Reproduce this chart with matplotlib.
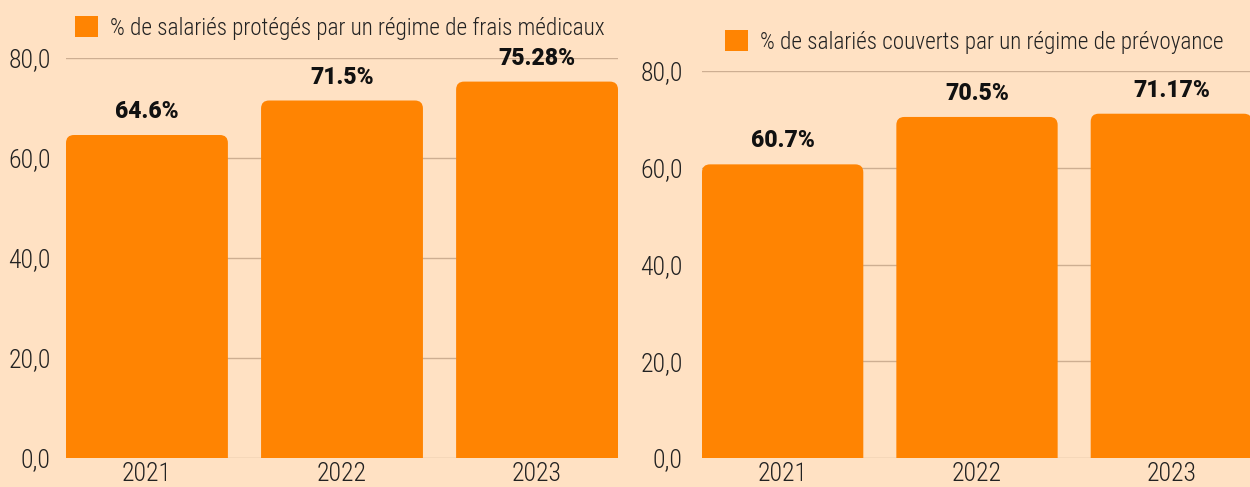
import matplotlib.pyplot as plt
from matplotlib.patches import FancyBboxPatch, Patch
from matplotlib.ticker import FuncFormatter

years = ['2021', '2022', '2023']
frais_medicaux = [64.6, 71.5, 75.28]
prevoyance = [60.7, 70.5, 71.17]
labels_frais = ['64.6%', '71.5%', '75.28%']
labels_prev = ['60.7%', '70.5%', '71.17%']
legend_frais = '% de salariés protégés par un régime de frais médicaux'
legend_prev = '% de salariés couverts par un régime de prévoyance'

bg = '#FFE1C3'
orange = '#FF8402'
grid_c = '#CDAE92'

plt.rcParams['font.family'] = ['Roboto Condensed', 'Liberation Sans Narrow',
                               'DejaVu Sans Condensed', 'Roboto', 'DejaVu Sans']
plt.rcParams['font.weight'] = 'light'

fig = plt.figure(figsize=(12.5, 4.87), dpi=100, facecolor=bg)
ax1 = fig.add_axes([66 / 1250, 1 - 458 / 487, 552 / 1250, 400 / 487])
ax2 = fig.add_axes([702 / 1250, 1 - 458 / 487, 550 / 1250, 387 / 487])


def draw(ax, values, labels, legend_text, leg_xy):
    ax.set_facecolor(bg)
    x = list(range(len(years)))
    ax.set_xlim(-0.415, 2.415)
    ax.set_ylim(0, 80)
    bars = ax.bar(x, values, width=0.83, color=orange, zorder=2)
    # data units per pixel, to get round corners of ~8 px
    ux = 2.83 / ax.bbox.width
    uy = 80 / ax.bbox.height
    for b in bars:
        b.set_visible(False)
        p = FancyBboxPatch((b.get_x(), -10), b.get_width(), b.get_height() + 10,
                           boxstyle=f'round,pad=0,rounding_size={8 * ux}',
                           mutation_aspect=uy / ux,
                           facecolor=orange, edgecolor='none', zorder=2)
        ax.add_patch(p)
    for b, lab in zip(bars, labels):
        ax.annotate(lab, (b.get_x() + b.get_width() / 2, b.get_height()),
                    xytext=(0, 12), textcoords='offset pixels',
                    ha='center', va='bottom', fontsize=16.5, fontweight='heavy',
                    family=['Roboto', 'DejaVu Sans'],
                    color='#111111', clip_on=False)
    ax.set_yticks([0, 20, 40, 60, 80])
    ax.yaxis.set_major_formatter(FuncFormatter(lambda v, p: f'{v:.1f}'.replace('.', ',')))
    ax.set_xticks(x)
    ax.set_xticklabels(years)
    ax.tick_params(axis='y', length=0, pad=11, labelsize=18.5, labelcolor='#222222')
    ax.tick_params(axis='x', length=0, pad=3, labelsize=18.5, labelcolor='#222222')
    ax.grid(axis='y', color=grid_c, lw=1, zorder=0)
    ax.set_axisbelow(True)
    for s in ax.spines.values():
        s.set_visible(False)
    fig.legend(handles=[Patch(facecolor=orange, edgecolor='none')],
               labels=[legend_text], loc='center left',
               bbox_to_anchor=(leg_xy[0] / 1250, 1 - leg_xy[1] / 487),
               bbox_transform=fig.transFigure, frameon=False, fontsize=16.7,
               handlelength=1.0, handleheight=1.0, handletextpad=0.5,
               borderpad=0, borderaxespad=0, labelcolor='#222222')


draw(ax1, frais_medicaux, labels_frais, legend_frais, (75, 28))
draw(ax2, prevoyance, labels_prev, legend_prev, (725, 42))
ax2.tick_params(axis='y', pad=14)

fig.savefig('out.png', dpi=100, facecolor=bg)
